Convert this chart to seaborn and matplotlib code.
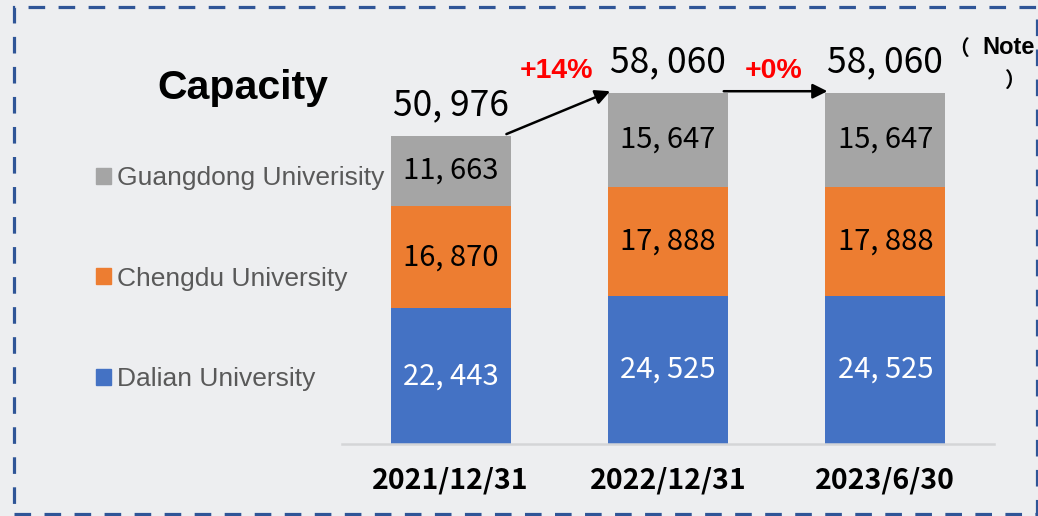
import matplotlib
matplotlib.use("Agg")
import matplotlib.pyplot as plt
import matplotlib.patches as mpatches
import pandas as pd
import seaborn as sns

# data
dates = ["2021/12/31", "2022/12/31", "2023/6/30"]
dalian = [22443, 24525, 24525]
chengdu = [16870, 17888, 17888]
guangdong = [11663, 15647, 15647]
totals = [50976, 58060, 58060]
series_names = ["Dalian University", "Chengdu University", "Guangdong Univerisity"]
colors = ["#4472c4", "#ed7d31", "#a5a5a5"]

BG = "#edeef0"
CJK = ["Noto Sans CJK SC", "DejaVu Sans"]
LAT = ["Liberation Sans", "Noto Sans CJK SC", "DejaVu Sans"]

sns.set_style("white")
plt.rcParams["font.family"] = CJK
plt.rcParams["text.color"] = "black"

df = pd.DataFrame({"date": dates, "Dalian": dalian, "Chengdu": chengdu, "Guangdong": guangdong})
df["lvl1"] = df["Dalian"]
df["lvl2"] = df["Dalian"] + df["Chengdu"]
df["lvl3"] = df["lvl2"] + df["Guangdong"]

fig = plt.figure(figsize=(10.38, 5.16), dpi=100, facecolor=BG)
ax = fig.add_axes([342 / 1038, 72 / 516, 652 / 1038, 434 / 516])
ax.set_facecolor("none")

W = 0.553
# stacked by overdrawing cumulative bars, tallest first
for col, c in [("lvl3", colors[2]), ("lvl2", colors[1]), ("lvl1", colors[0])]:
    sns.barplot(data=df, x="date", y=col, color=c, width=W, saturation=1,
                errorbar=None, ax=ax, linewidth=0)

ax.set_xlim(-0.5, 2.5)
ax.set_ylim(0, 434 / 0.00605)
ax.set_xlabel("")
ax.set_ylabel("")
ax.set_yticks([])
for s in ["left", "right", "top"]:
    ax.spines[s].set_visible(False)
ax.spines["bottom"].set_color("#d4d5d7")
ax.spines["bottom"].set_linewidth(1.8)
ax.tick_params(axis="x", length=0, pad=16, colors="black")
for lab in ax.get_xticklabels():
    lab.set_fontsize(20.5)
    lab.set_fontweight("bold")
    lab.set_family(CJK)
    lab.set_color("black")

def fmt(v):
    return f"{v:,}".replace(",", ", ")

# segment labels
for i in range(len(dates)):
    bottoms = [0, dalian[i], dalian[i] + chengdu[i]]
    vals = [dalian[i], chengdu[i], guangdong[i]]
    for j, v in enumerate(vals):
        ax.text(i, bottoms[j] + v / 2, fmt(v), ha="center", va="center",
                fontsize=21, fontweight="medium",
                color="white" if j == 0 else "black", family=CJK)
    ax.annotate(fmt(totals[i]), (i, totals[i]), xytext=(0, 9), textcoords="offset points",
                ha="center", va="bottom", fontsize=25.5, fontweight="medium",
                color="black", family=CJK)

# growth arrows and percentages
for i in range(len(dates) - 1):
    ax.annotate("", xy=(i + 1 - W / 2 + 0.01, totals[i + 1] + 250),
                xytext=(i + W / 2 - 0.02, totals[i] + 250),
                arrowprops=dict(arrowstyle="-|>", color="black", lw=1.8,
                                mutation_scale=22, shrinkA=0, shrinkB=0))
    pct = round((totals[i + 1] / totals[i] - 1) * 100)
    ax.annotate(f"+{pct}%", (i + 0.5, totals[i + 1]), xytext=(-2, 16), textcoords="offset points",
                ha="center", va="center", fontsize=20.5, fontweight="bold",
                color="#ff0000", family=LAT)

# title
fig.text(243 / 1038, 1 - 88 / 516, "Capacity", ha="center", va="center",
         fontsize=29.5, fontweight="bold", color="black", family=LAT)

# note
fig.text(959 / 1038, 1 - 48 / 516, "（", ha="center", va="center",
         fontsize=15, fontweight="bold", color="black", family=CJK)
fig.text(1035 / 1038, 1 - 48 / 516, "Note", ha="right", va="center",
         fontsize=17, fontweight="bold", color="black", family=LAT)
fig.text(1015 / 1038, 1 - 80 / 516, "）", ha="center", va="center",
         fontsize=15, fontweight="bold", color="black", family=CJK)

# legend
handles = [mpatches.Patch(color=colors[k], label=series_names[k]) for k in [2, 1, 0]]
leg = fig.legend(handles=handles, loc="upper left", bbox_to_anchor=(96 / 1038, 1 - 166 / 516),
                 frameon=False, prop={"family": LAT, "size": 19},
                 handlelength=0.55, handleheight=0.55, handletextpad=0.25,
                 labelspacing=2.9, borderpad=0, borderaxespad=0)
for t in leg.get_texts():
    t.set_color("#595959")

# dashed frame
frame = mpatches.Rectangle((13.5 / 1038, 2 / 516), (1037 - 13.5) / 1038, (509 - 2) / 516,
                           transform=fig.transFigure, fill=False, edgecolor="#2f5597",
                           lw=2.3, linestyle=(0, (5.2, 4.2)), clip_on=False)
fig.patches.append(frame)

fig.savefig("out.png", dpi=100, facecolor=BG)
